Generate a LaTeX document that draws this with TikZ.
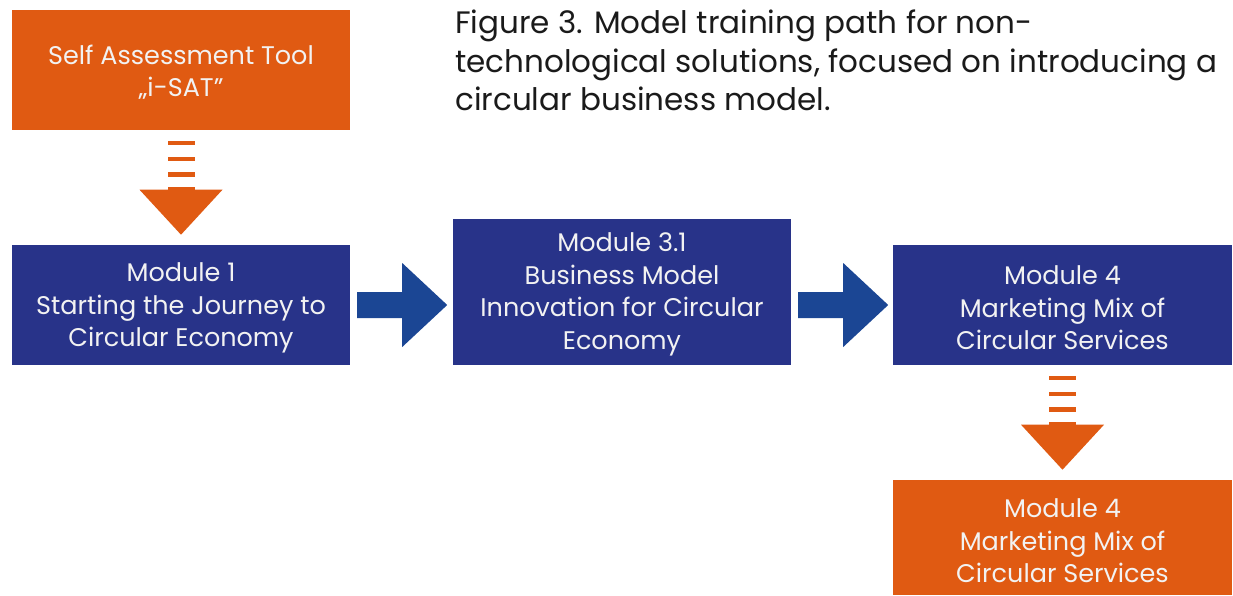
\documentclass[tikz,border=0pt]{standalone}
\usepackage{fontspec}
\setmainfont{Poppins}
\usetikzlibrary{calc}
\definecolor{boxorange}{HTML}{E05A12}
\definecolor{boxblue}{HTML}{283389}
\definecolor{arrowblue}{HTML}{1B4694}
\definecolor{boxtext}{HTML}{F2F2F2}
\definecolor{titletext}{HTML}{1A1A1A}
\tikzset{
  box/.style={minimum width=338pt, inner sep=0pt},
  orangebox/.style={box, fill=boxorange},
  bluebox/.style={box, fill=boxblue},
  boxlabel/.style={inner sep=0pt, text=boxtext, align=center,
    font=\fontsize{25.5}{32.5}\selectfont},
  stripefill/.style={fill=boxorange, draw=none},
  bluearrow/.style={fill=arrowblue, draw=none},
}
\newcommand\stripeddown[1]{%
  \fill[stripefill] ($(#1)+(-13.5,11)$) rectangle ($(#1)+(13.5,15)$);
  \fill[stripefill] ($(#1)+(-13.5,26.5)$) rectangle ($(#1)+(13.5,31)$);
  \fill[stripefill] ($(#1)+(-13.5,42)$) rectangle ($(#1)+(13.5,46.5)$);
  \fill[stripefill] ($(#1)+(-13.5,56.5)$) rectangle ($(#1)+(13.5,60)$);
  \fill[stripefill] ($(#1)+(-41.5,59.5)$) -- ($(#1)+(41.5,59.5)$) -- ($(#1)+(0,104.5)$) -- cycle;
}
\newcommand\bluerightarrow[1]{%
  \fill[bluearrow] ($(#1)+(7,-13)$) -- ($(#1)+(52,-13)$) -- ($(#1)+(52,-42)$) --
    ($(#1)+(97,0)$) -- ($(#1)+(52,42)$) -- ($(#1)+(52,13)$) -- ($(#1)+(7,13)$) -- cycle;
}
\begin{document}
\begin{tikzpicture}[x=1pt,y=-1pt]
\fill[white] (0,0) rectangle (1233,595);
\useasboundingbox (0,0) rectangle (1233,595);

\node[orangebox, minimum height=120pt] (sat) at (181,70) {};
\node[bluebox, minimum height=120pt] (m1) at (181,305) {};
\node[bluebox, minimum height=146pt] (m31) at (622,292) {};
\node[bluebox, minimum height=120pt, minimum width=339pt] (m4) at (1062.5,305) {};
\node[orangebox, minimum height=115pt, minimum width=339pt] (m4b) at (1062.5,537.5) {};

\node[boxlabel] (satl) at ($(sat.center)+(0,2)$) {Self Assessment Tool\\„i-SAT”};
\node[boxlabel] (m1l) at ($(m1.center)+(0,3)$) {Module 1\\Starting the Journey to\\Circular Economy};
\node[boxlabel] (m31l) at ($(m31.center)+(0,2.5)$) {Module 3.1\\Business Model\\Innovation for Circular\\Economy};
\node[boxlabel] (m4l) at ($(m4.center)+(0,3)$) {Module 4\\Marketing Mix of\\Circular Services};
\node[boxlabel] (m4bl) at ($(m4b.center)+(0,3.5)$) {Module 4\\Marketing Mix of\\Circular Services};

\node[anchor=north west, inner sep=0pt, align=left, text=titletext,
  font=\fontsize{31}{38.5}\selectfont] (title) at (455,10)
  {Figure 3. Model training path for non-\\technological solutions, focused on introducing a\\circular business model.};

\coordinate (a2start) at (m31.east |- m4.west);
\stripeddown{sat.south}
\stripeddown{m4.south}
\bluerightarrow{m1.east}
\bluerightarrow{a2start}
\end{tikzpicture}
\end{document}
